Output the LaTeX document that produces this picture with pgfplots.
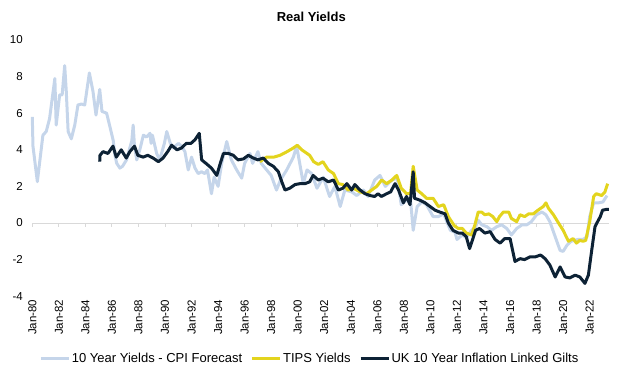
\documentclass[border=0pt]{standalone}
\usepackage{fontspec}
\setmainfont{Liberation Sans}
\usepackage{pgfplots}
\pgfplotsset{compat=1.18}
\definecolor{cpiblue}{HTML}{C5D5EA}
\definecolor{tipsyellow}{HTML}{E3D41E}
\definecolor{uknavy}{HTML}{0D2235}
\definecolor{zeroline}{HTML}{D9D9D9}
\begin{document}
\begin{tikzpicture}
\path[use as bounding box] (-32.3pt,-83.8pt) rectangle (596.7pt,296.2pt);
\begin{axis}[
  at={(0pt,0pt)}, anchor=south west,
  scale only axis, width=577.7pt, height=256.2pt,
  xmin=1980, xmax=2023.53, ymin=-4, ymax=10,
  axis line style={draw=none},
  tick style={draw=none},
  ytick={-4,-2,...,10},
  xtick={1980,1982,...,2022},
  xticklabels={Jan-80,Jan-82,Jan-84,Jan-86,Jan-88,Jan-90,Jan-92,Jan-94,Jan-96,Jan-98,Jan-00,Jan-02,Jan-04,Jan-06,Jan-08,Jan-10,Jan-12,Jan-14,Jan-16,Jan-18,Jan-20,Jan-22},
  xticklabel style={rotate=90, anchor=east, font=\fontsize{11.5}{12}\selectfont, text=black},
  yticklabel style={font=\fontsize{11.5}{12}\selectfont, xshift=-6pt, text=black},
  /pgf/number format/assume math mode=true,
  clip=false,
  legend columns=3,
  legend style={at={(axis description cs:0.48,-0.245)}, anchor=center, draw=none,
    font=\fontsize{13}{14}\selectfont, nodes={inner xsep=1.5pt},
    /tikz/every even column/.append style={column sep=7pt}},
  legend image code/.code={\draw[#1] (0pt,0pt) -- (28pt,0pt);},
  every axis plot/.append style={line join=round},
]
\addplot[zeroline, line width=1pt, forget plot] coordinates {(1980,0) (2023.45,0)};
\addplot[zeroline, line width=1pt, ycomb, forget plot] coordinates {
(1980,-0.22) (1982,-0.22) (1984,-0.22) (1986,-0.22) (1988,-0.22) (1990,-0.22) (1992,-0.22) (1994,-0.22) (1996,-0.22) (1998,-0.22) (2000,-0.22) (2002,-0.22) (2004,-0.22) (2006,-0.22) (2008,-0.22) (2010,-0.22) (2012,-0.22) (2014,-0.22) (2016,-0.22) (2018,-0.22) (2020,-0.22) (2022,-0.22)};
\addplot[cpiblue, line width=3pt] coordinates {
(1980.0,5.8) (1980.05,4.2) (1980.38,2.26) (1980.8,4.8) (1981.05,5.0) (1981.3,5.7) (1981.7,7.9) (1981.8,5.35)
(1982.06,7.0) (1982.25,7.0) (1982.44,8.6) (1982.56,7.2) (1982.7,5.0) (1982.94,4.6) (1983.2,5.35) (1983.44,6.45)
(1983.7,6.5) (1983.95,6.45) (1984.3,8.2) (1984.57,7.2) (1984.8,5.9) (1985.08,7.3) (1985.25,6.1) (1985.6,6.0)
(1985.85,5.26) (1986.1,4.5) (1986.2,3.8) (1986.36,3.26) (1986.6,3.0) (1986.8,3.1) (1987.1,3.45) (1987.5,4.5)
(1987.6,5.35) (1987.7,4.2) (1987.87,3.45) (1988.1,4.0) (1988.37,4.8) (1988.6,4.7) (1988.87,4.9) (1988.95,4.35)
(1989.05,4.8) (1989.37,3.8) (1989.6,3.45) (1989.95,4.35) (1990.13,5.0) (1990.4,4.35) (1990.63,4.1) (1991.0,4.35)
(1991.25,4.2) (1991.5,3.9) (1991.75,2.9) (1992.0,3.6) (1992.26,3.0) (1992.5,2.7) (1992.75,2.8) (1993.0,2.7)
(1993.2,2.9) (1993.5,1.6) (1993.7,2.5) (1994.0,2.0) (1994.27,3.26) (1994.65,4.45) (1995.0,3.45) (1995.4,2.9)
(1995.78,2.45) (1996.0,3.26) (1996.4,3.8) (1996.6,3.26) (1997.0,3.9) (1997.25,3.26) (1997.66,2.9) (1998.0,2.6)
(1998.4,1.8) (1998.7,2.35) (1999.17,2.9) (1999.67,3.6) (1999.92,4.2) (2000.15,3.26) (2000.42,2.15) (2000.7,2.9)
(2001.05,2.7) (2001.45,1.9) (2001.93,2.5) (2002.4,1.45) (2002.8,2.0) (2003.2,0.9) (2003.55,1.8)
(2004.07,1.7) (2004.45,1.5) (2004.95,1.8) (2005.3,1.45) (2005.8,2.35) (2006.2,2.6) (2006.6,2.0) (2007.1,2.35)
(2007.5,2.45) (2007.8,1.0) (2008.2,1.25) (2008.5,1.25) (2008.7,-0.4) (2009.0,0.9) (2009.35,1.15) (2009.7,1.0)
(2010.2,0.35) (2010.6,0.35) (2011.0,0.5) (2011.5,-0.4) (2011.85,-0.5) (2012.0,-0.9) (2012.4,-0.65) (2012.7,-0.8)
(2013.1,-0.4) (2013.4,-0.2) (2013.6,0.15) (2013.87,-0.1) (2014.25,-0.2) (2014.6,-0.4) (2015.0,-0.2) (2015.37,-0.1)
(2015.75,-0.3) (2016.1,-0.65) (2016.5,-0.3) (2016.9,-0.1) (2017.26,-0.1) (2017.6,0.07) (2018.0,0.45) (2018.4,0.6)
(2018.7,0.45) (2019.0,0.07) (2019.4,-0.75) (2019.77,-1.5) (2020.0,-1.55) (2020.3,-1.2) (2020.6,-1.0) (2021.1,-0.9)
(2021.5,-0.9) (2021.8,-0.75) (2022.0,0.35) (2022.3,1.1) (2022.65,1.1) (2023.0,1.15) (2023.3,1.5)};
\addlegendentry{10 Year Yields - CPI Forecast}
\addplot[tipsyellow, line width=3pt] coordinates {
(1997.15,3.35) (1997.66,3.6) (1998.2,3.6) (1998.67,3.7) (1999.2,3.9) (1999.67,4.1) (1999.97,4.25) (2000.3,4.0)
(2000.7,3.8) (2000.9,3.7) (2001.2,3.35) (2001.55,3.2) (2001.9,3.35) (2002.3,2.9) (2002.7,2.7) (2003.06,2.15)
(2003.4,2.1) (2003.8,1.8) (2004.2,1.9) (2004.7,1.7) (2005.2,1.6) (2005.57,1.8) (2005.95,2.0) (2006.33,2.35)
(2006.7,2.15) (2007.1,2.35) (2007.46,2.6) (2007.8,1.9) (2008.2,1.6) (2008.5,1.6) (2008.7,3.1) (2009.0,1.8)
(2009.35,1.6) (2009.7,1.35) (2010.2,1.35) (2010.6,0.9) (2011.0,1.0) (2011.35,0.35) (2011.8,-0.15) (2012.1,-0.3)
(2012.4,-0.3) (2012.7,-0.55) (2013.1,-0.65) (2013.35,-0.1) (2013.6,0.6) (2013.85,0.6) (2014.1,0.45) (2014.4,0.5)
(2014.7,0.35) (2015.0,0.07) (2015.2,0.35) (2015.5,0.6) (2015.9,0.6) (2016.1,0.25) (2016.5,0.07) (2016.75,0.45)
(2017.1,0.35) (2017.4,0.5) (2017.75,0.5) (2018.1,0.7) (2018.5,0.9) (2018.7,1.1) (2018.9,0.8) (2019.27,0.45)
(2019.65,0.0) (2020.0,-0.4) (2020.4,-1.0) (2020.75,-0.85) (2021.0,-1.1) (2021.25,-0.95) (2021.5,-1.0) (2021.7,-0.95)
(2022.0,0.07) (2022.3,1.45) (2022.5,1.6) (2022.9,1.5) (2023.15,1.7) (2023.35,2.15)};
\addlegendentry{TIPS Yields}
\addplot[uknavy, line width=3pt] coordinates {
(1985.08,3.35) (1985.1,3.7) (1985.33,3.9) (1985.7,3.8) (1986.08,4.2) (1986.33,3.6) (1986.7,4.0) (1987.08,3.55)
(1987.35,3.9) (1987.7,4.2) (1987.95,3.7) (1988.35,3.6) (1988.7,3.7) (1989.1,3.55) (1989.5,3.35) (1989.85,3.55)
(1990.2,3.9) (1990.5,4.25) (1990.9,4.0) (1991.25,4.1) (1991.6,4.35) (1991.95,4.35) (1992.26,4.55) (1992.58,4.9)
(1992.76,3.45) (1993.1,3.25) (1993.5,3.0) (1993.9,2.6) (1994.14,3.2) (1994.4,3.8) (1994.77,3.8) (1995.15,3.7)
(1995.5,3.45) (1995.9,3.5) (1996.28,3.7) (1996.65,3.55) (1997.0,3.45) (1997.4,3.55) (1997.8,3.25) (1998.16,3.1)
(1998.54,2.8) (1998.8,2.25) (1999.04,1.8) (1999.4,1.9) (1999.8,2.1) (2000.17,2.15) (2000.55,2.15) (2000.9,2.25)
(2001.16,2.6) (2001.55,2.35) (2001.9,2.45) (2002.3,2.25) (2002.7,2.35) (2003.06,1.8) (2003.4,1.9) (2003.7,2.15)
(2004.07,1.8) (2004.3,2.1) (2004.7,1.8) (2005.07,1.6) (2005.45,1.5) (2005.8,1.45) (2006.05,1.6) (2006.3,1.45)
(2006.7,1.6) (2007.0,1.7) (2007.33,2.15) (2007.6,1.8) (2007.96,1.1) (2008.2,1.45) (2008.46,1.0) (2008.7,2.8)
(2008.8,1.35) (2009.2,1.25) (2009.6,1.1) (2009.97,0.9) (2010.35,0.7) (2010.7,0.6) (2011.1,0.5) (2011.35,0.0)
(2011.7,-0.4) (2012.1,-0.55) (2012.4,-0.55) (2012.7,-0.75) (2012.95,-1.4) (2013.2,-0.85) (2013.4,-0.4) (2013.7,-0.3)
(2014.1,-0.55) (2014.5,-0.47) (2014.87,-0.9) (2015.25,-1.1) (2015.6,-0.85) (2016.0,-0.85) (2016.37,-2.1) (2016.75,-1.95)
(2017.1,-2.0) (2017.5,-1.85) (2017.9,-1.85) (2018.3,-1.75) (2018.64,-1.95) (2019.0,-2.3) (2019.4,-2.95) (2019.77,-2.4)
(2020.15,-2.95) (2020.5,-3.0) (2020.9,-2.85) (2021.26,-2.95) (2021.64,-3.3) (2021.9,-2.85) (2022.15,-1.5) (2022.4,-0.2)
(2022.65,0.15) (2022.8,0.35) (2022.97,0.7) (2023.3,0.75) (2023.45,0.75)};
\addlegendentry{UK 10 Year Inflation Linked Gilts}
\end{axis}
\node[font=\fontsize{13}{15}\selectfont\bfseries] at (279pt,279.2pt) {Real Yields};
\end{tikzpicture}
\end{document}
